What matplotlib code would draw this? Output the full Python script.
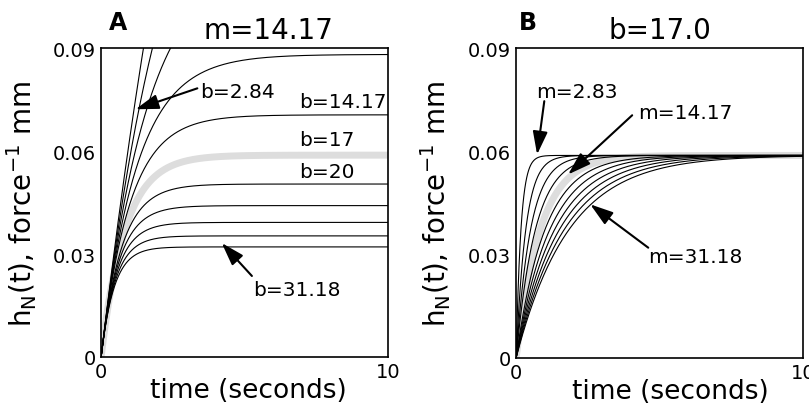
import numpy as np
import matplotlib.pyplot as plt

# Model parameters shown in the figure (first-order response h = (1/b)(1 - exp(-b t / m)))
m_fixed = 14.17
b_values = [2.84, 5.67, 8.50, 11.34, 14.17, 17.0, 19.84, 22.67, 25.50, 28.34, 31.18]
b_highlight = 17.0

b_fixed = 17.0
m_values = [2.83, 5.67, 8.50, 11.34, 14.17, 17.0, 19.84, 22.67, 25.50, 28.34, 31.18]
m_highlight = 14.17

t = np.linspace(0, 10, 600)


def response(m, b):
    return (1.0 / b) * (1 - np.exp(-b * t / m))


fig = plt.figure(figsize=(8.09, 4.10), dpi=100)
axA = fig.add_axes([0.125, 0.127, 0.355, 0.753])
axB = fig.add_axes([0.638, 0.125, 0.355, 0.755])

# Panel A: vary b
for b in b_values:
    if b == b_highlight:
        axA.plot(t, response(m_fixed, b), color='#dddddd', lw=5, zorder=1)
    else:
        axA.plot(t, response(m_fixed, b), color='black', lw=0.8, zorder=2)

# Panel B: vary m
for m in m_values:
    if m == m_highlight:
        axB.plot(t, response(m, b_fixed), color='#dddddd', lw=5, zorder=1)
    else:
        axB.plot(t, response(m, b_fixed), color='black', lw=0.8, zorder=2)

for ax in (axA, axB):
    ax.set_xlim(0, 10)
    ax.set_ylim(0, 0.09)
    ax.set_xticks([0, 10])
    ax.set_xticklabels(['0', '10'])
    ax.set_yticks([0, 0.03, 0.06, 0.09])
    ax.set_yticklabels(['0', '0.03', '0.06', '0.09'])
    ax.tick_params(length=0, labelsize=14, pad=4)
    for s in ax.spines.values():
        s.set_linewidth(1.2)
    ax.set_xlabel('time (seconds)', fontsize=19)
    ax.set_ylabel(r'h$_\mathregular{N}$(t), force$^{-1}$ mm', fontsize=20)

axA.xaxis.set_label_coords(0.512, -0.065)
axB.xaxis.set_label_coords(0.537, -0.065)
axA.yaxis.set_label_coords(-0.215, 0.5)
axB.yaxis.set_label_coords(-0.22, 0.5)

arrow = dict(arrowstyle='-|>,head_width=0.45,head_length=1.4', color='black', lw=1.5,
             shrinkA=0, shrinkB=0)

# Panel A annotations
axA.annotate('', xy=(1.2, 0.0722), xytext=(3.35, 0.0783), arrowprops=arrow)
axA.text(3.45, 0.0775, 'b=2.84', fontsize=14.5, va='center')
axA.text(6.9, 0.0718, 'b=14.17', fontsize=14.5, va='bottom')
axA.text(6.9, 0.0605, 'b=17', fontsize=14.5, va='bottom')
axA.text(6.9, 0.0513, 'b=20', fontsize=14.5, va='bottom')
axA.annotate('', xy=(4.2, 0.0332), xytext=(5.25, 0.0236), arrowprops=arrow)
axA.text(5.3, 0.0198, 'b=31.18', fontsize=14.5, va='center')

# Panel B annotations
axB.annotate('', xy=(0.73, 0.0591), xytext=(0.98, 0.0746), arrowprops=arrow)
axB.text(0.7, 0.0775, 'm=2.83', fontsize=14.5, va='center')
axB.annotate('', xy=(1.81, 0.0533), xytext=(4.04, 0.0705), arrowprops=arrow)
axB.text(4.25, 0.0713, 'm=14.17', fontsize=14.5, va='center')
axB.annotate('', xy=(2.58, 0.0446), xytext=(4.6, 0.032), arrowprops=arrow)
axB.text(4.6, 0.0295, 'm=31.18', fontsize=14.5, va='center')

fig.text(0.135, 0.945, 'A', fontsize=17, fontweight='bold', ha='left', va='center')
fig.text(0.332, 0.925, 'm=14.17', fontsize=20, ha='center', va='center')
fig.text(0.641, 0.945, 'B', fontsize=17, fontweight='bold', ha='left', va='center')
fig.text(0.816, 0.925, 'b=17.0', fontsize=20, ha='center', va='center')

fig.savefig('out.png', dpi=100)
